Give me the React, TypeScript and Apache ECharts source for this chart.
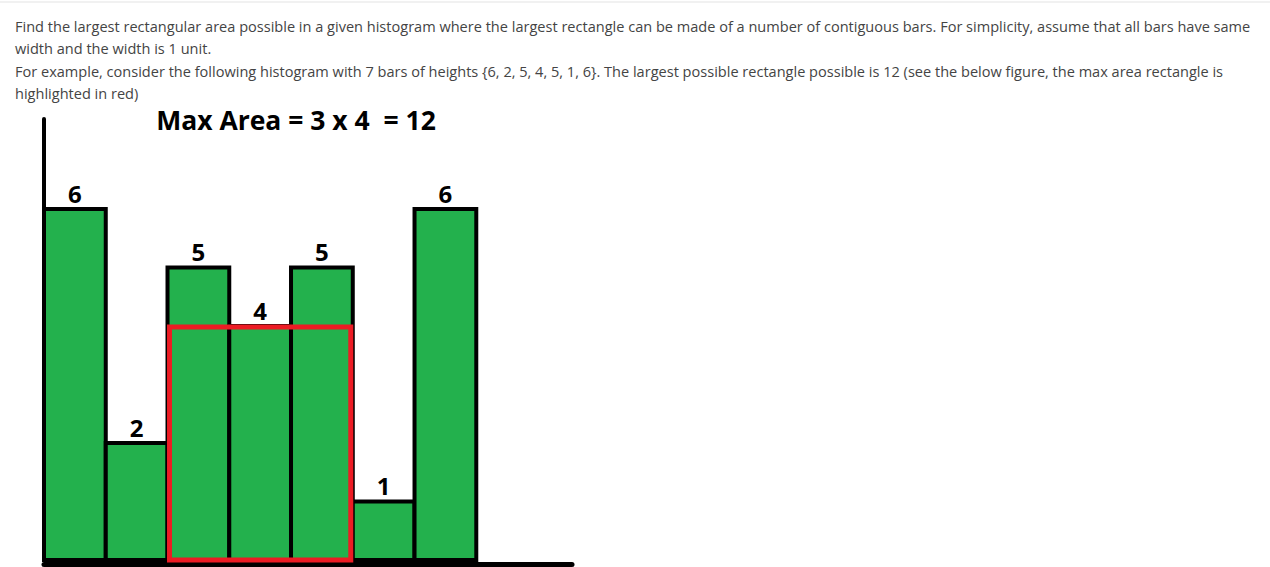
import React, { useEffect, useRef } from "react";
import * as echarts from "echarts";

const heights = [6, 2, 5, 4, 5, 1, 6];
const maxRect = { start: 2, end: 5, height: 4 };
const titleText = "Max Area = 3 x 4  = 12";
const paragraphLines = [
  "Find the largest rectangular area possible in a given histogram where the largest rectangle can be made of a number of contiguous bars. For simplicity, assume that all bars have same",
  "width and the width is 1 unit.",
  "For example, consider the following histogram with 7 bars of heights {6, 2, 5, 4, 5, 1, 6}. The largest possible rectangle possible is 12 (see the below figure, the max area rectangle is",
  "highlighted in red)",
];
const lineYs = [26, 48, 71, 93];

const GREEN = "#23b14d";
const RED = "#ec1c24";

export default function App() {
  const ref = useRef<HTMLDivElement>(null);
  useEffect(() => {
    if (!ref.current) return;
    const chart = echarts.init(ref.current, null, { renderer: "svg" });
    const option: any = {
      animation: false,
      backgroundColor: "#fff",
      grid: { left: 44, top: 119, width: 528, height: 441, outerBoundsMode: "none" },
      xAxis: {
        type: "value",
        min: 0,
        max: 8.55,
        offset: 4,
        axisLine: { show: true, onZero: false, lineStyle: { color: "#000", width: 5 } },
        axisTick: { show: false },
        axisLabel: { show: false },
        splitLine: { show: false },
      },
      yAxis: {
        type: "value",
        min: 0,
        max: 7.54,
        axisLine: { show: true, onZero: false, lineStyle: { color: "#000", width: 4 } },
        axisTick: { show: false },
        axisLabel: { show: false },
        splitLine: { show: false },
      },
      graphic: [
        { type: "line", shape: { x1: 0, y1: 2, x2: 1270, y2: 2 }, style: { stroke: "#e3e3e3", lineWidth: 1 } },
        ...paragraphLines.map((t, i) => ({
          type: "text",
          x: 15,
          y: lineYs[i],
          style: {
            text: t,
            fill: "#444",
            font: "14.55px 'Open Sans'",
            verticalAlign: "middle",
            align: "left",
          },
        })),
        {
          type: "text",
          x: 296,
          y: 120,
          z: 10,
          style: {
            text: titleText,
            fill: "#000",
            font: "bold 26.5px 'Open Sans'",
            align: "center",
            verticalAlign: "middle",
          },
        },
      ],
      series: [
        {
          type: "custom",
          data: heights.map((h, i) => [i, h]),
          encode: { x: 0, y: 1 },
          renderItem: (params: any, api: any) => {
            const i = api.value(0);
            const v = api.value(1);
            const p0 = api.coord([i, v]);
            const p1 = api.coord([i + 1, 0]);
            return {
              type: "rect",
              shape: { x: p0[0], y: p0[1], width: p1[0] - p0[0], height: p1[1] - p0[1] },
              style: { fill: GREEN, stroke: "#000", lineWidth: 4 },
              textContent: {
                style: { text: String(v), font: "bold 24px 'Open Sans'", fill: "#000" },
              },
              textConfig: { position: "top", distance: 2 },
            };
          },
          z: 2,
        },
        {
          type: "custom",
          data: [[maxRect.start, maxRect.end, maxRect.height]],
          encode: { x: [0, 1], y: 2 },
          renderItem: (params: any, api: any) => {
            const a = api.coord([api.value(0), api.value(2)]);
            const b = api.coord([api.value(1), 0]);
            return {
              type: "rect",
              shape: { x: a[0] + 2, y: a[1] + 1, width: b[0] - a[0] - 4, height: b[1] - a[1] - 1 },
              style: { fill: "none", stroke: RED, lineWidth: 5 },
            };
          },
          z: 3,
        },
      ],
    };
    chart.setOption(option);
    return () => chart.dispose();
  }, []);
  return (
    <div
      ref={ref}
      style={{ position: "absolute", left: 0, top: 0, width: 1270, height: 567 }}
    />
  );
}
